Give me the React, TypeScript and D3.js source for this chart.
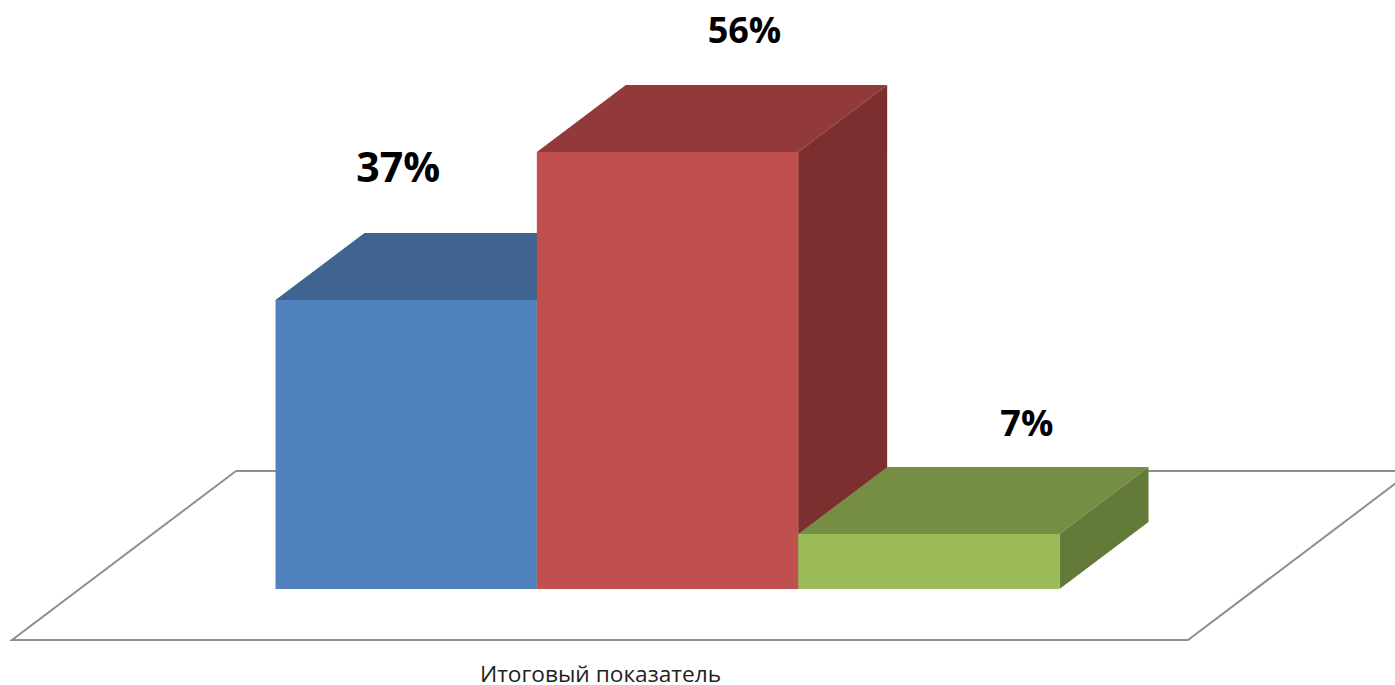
import * as d3 from "d3";

const categories = ["A", "B", "C"];
const values = [37, 56, 7];
const axisLabel = "Итоговый показатель";

const FRONT = ["#4f81bd", "#c0504d", "#9bbb59"];
const TOP = ["#3e648f", "#923a39", "#768e44"];
const SIDE = ["#325478", "#7c2f2e", "#647a39"];

// hand placed labels, excel moved them away from the bar centres
const LABEL_SHIFT = [-52.5, 32.5, 53.5];
const LABEL_LIFT = [51, 42, 31];
const LABEL_SIZE = [41, 36, 36];

const WIDTH = 1395;
const HEIGHT = 685;
const DX = 89;
const DY = -67;
const FONT = "'Open Sans', sans-serif";

const x = d3.scaleBand<string>().domain(categories).range([275.5, 1059.5]);
const y = d3.scaleLinear().domain([0, 56]).rangeRound([589, 152]);
const line = d3.line();

export default function App() {
  const base = y(0);
  const floor = line([
    [236, 471],
    [12, 640],
    [1188, 640],
    [1412, 471],
  ]);
  const floorBack = line([
    [236, 471],
    [1412, 471],
  ]);

  return (
    <svg
      width={WIDTH}
      height={HEIGHT}
      style={{ position: "absolute", left: 0, top: 0, background: "#fff" }}
    >
      <path d={floorBack!} fill="none" stroke="#8f8f8f" strokeWidth={2} />
      <path d={floor!} fill="none" stroke="#8f8f8f" strokeWidth={2} />
      {categories.map((c, i) => {
        const x0 = x(c)!;
        const x1 = x0 + x.bandwidth();
        const top = y(values[i]);
        return (
          <g key={c}>
            <path
              d={line([[x0, top], [x1, top], [x1 + DX, top + DY], [x0 + DX, top + DY]])! + "Z"}
              fill={TOP[i]}
            />
            <path
              d={line([[x1, top], [x1 + DX, top + DY], [x1 + DX, base + DY], [x1, base]])! + "Z"}
              fill={SIDE[i]}
            />
            <rect x={x0} y={top} width={x.bandwidth()} height={base - top} fill={FRONT[i]} />
          </g>
        );
      })}
      {categories.map((c, i) => (
        <text
          key={c}
          x={x(c)! + x.bandwidth() / 2 + DX / 2 + LABEL_SHIFT[i]}
          y={y(values[i]) + DY - LABEL_LIFT[i]}
          textAnchor="middle"
          fontFamily={FONT}
          fontWeight={700}
          fontSize={LABEL_SIZE[i]}
          fill="#000"
        >
          {values[i]}%
        </text>
      ))}
      <text x={600.5} y={682} textAnchor="middle" fontFamily={FONT} fontSize={22.7} fill="#222">
        {axisLabel}
      </text>
    </svg>
  );
}
